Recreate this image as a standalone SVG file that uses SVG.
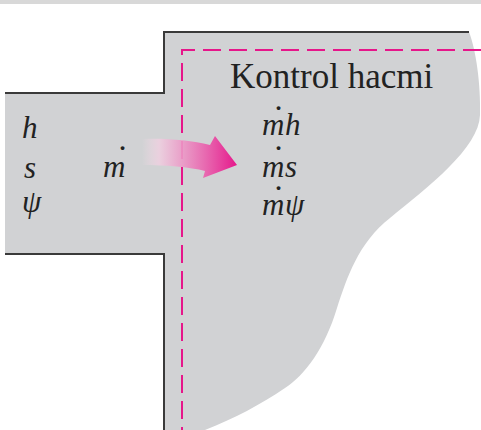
<svg xmlns="http://www.w3.org/2000/svg" width="481" height="430" viewBox="0 0 481 430">
  <style>
    .wall { fill: none; stroke: #3a3a3a; stroke-width: 2; }
    .cv { fill: none; stroke: #e6168a; stroke-width: 2; stroke-dasharray: 18 8; }
    .lbl { font-family: "Liberation Serif", "DejaVu Serif", serif; fill: #222; }
    .it { font-style: italic; font-size: 31px; }
    .dot { font-style: normal; font-size: 36px; }
  </style>
  <defs>
    <linearGradient id="flowGrad" gradientUnits="userSpaceOnUse" x1="142" y1="0" x2="238" y2="0">
      <stop offset="0" stop-color="#f3dbe7" stop-opacity="0"/>
      <stop offset="0.18" stop-color="#efcfe0" stop-opacity="0.85"/>
      <stop offset="1" stop-color="#e5158a"/>
    </linearGradient>
  </defs>

  <!-- top strip -->
  <rect x="0" y="0" width="481" height="4" fill="#d8d8d8"/>

  <!-- flow region: inlet duct + device body -->
  <g id="region">
    <path d="M 5,93 L 164,93 L 164,32 L 469,32 C 476,50 481,85 480,115 C 479,148 428,187 390,218 C 358,243 347,278 337,308 C 325,348 305,375 285,388 C 260,405 235,418 205,430 L 164,430 L 164,254 L 5,254 Z" fill="#d1d2d4"/>
    <path class="wall" d="M 5,93 L 164,93 L 164,32 L 469,32"/>
    <path class="wall" d="M 5,254 L 164,254 L 164,430"/>
  </g>

  <!-- control volume boundary -->
  <g id="control-volume">
    <path class="cv" d="M 481,50 L 182,50 L 182,430"/>
    <text class="lbl" x="230" y="88" font-size="35">Kontrol hacmi</text>
  </g>

  <!-- inlet properties -->
  <g id="inlet">
    <text class="lbl it" x="22" y="138">h</text>
    <text class="lbl it" x="24" y="178">s</text>
    <text class="lbl it" x="22" y="212">ψ</text>
    <text class="lbl it" x="103" y="177">m<tspan class="dot" x="116.5" y="170">˙</tspan></text>
  </g>

  <!-- flow arrow -->
  <g id="connectors">
    <path d="M 142,139 C 165,138 190,140 210,145 L 215,136 L 237,165 L 203,178 L 205,171 C 190,167 165,165 142,165 Z" fill="url(#flowGrad)"/>
  </g>

  <!-- transported quantities -->
  <g id="fluxes">
    <text class="lbl it" x="262" y="135">m<tspan class="dot" x="272.5" y="130">˙</tspan><tspan x="285" y="135">h</tspan></text>
    <text class="lbl it" x="262" y="177">m<tspan class="dot" x="272.5" y="170">˙</tspan><tspan x="285" y="177">s</tspan></text>
    <text class="lbl it" x="262" y="215">m<tspan class="dot" x="272.5" y="210">˙</tspan><tspan x="285" y="215">ψ</tspan></text>
  </g>
</svg>
